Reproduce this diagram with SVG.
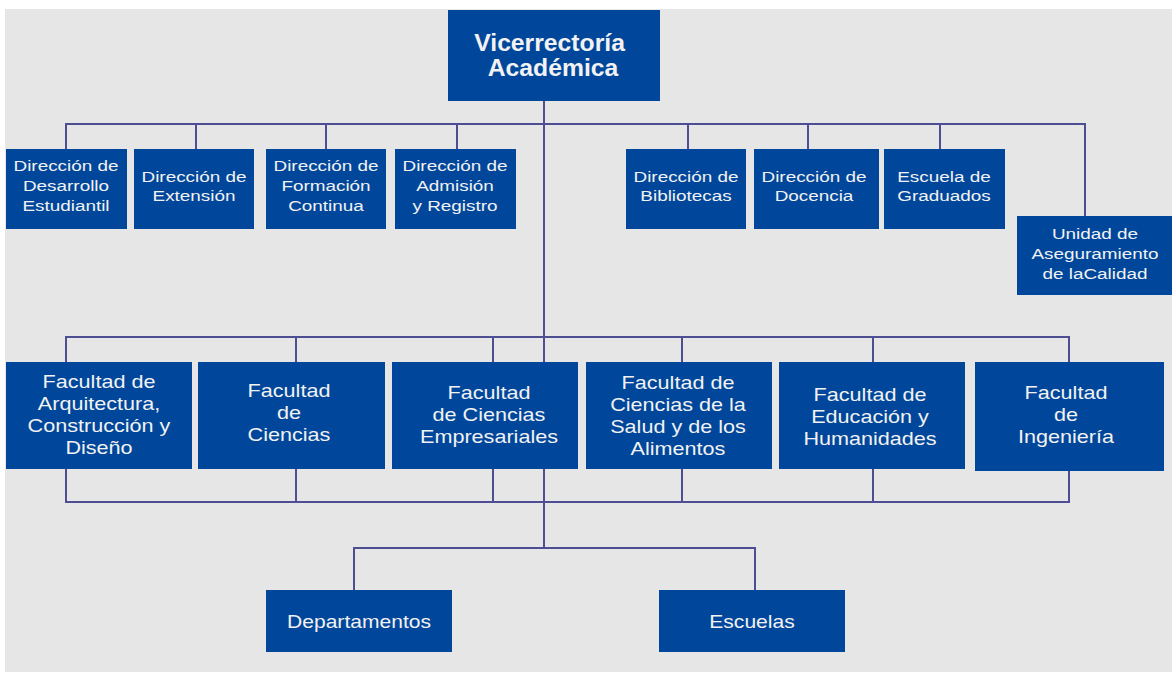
<svg xmlns="http://www.w3.org/2000/svg" width="1172" height="674" viewBox="0 0 1172 674">
  <style>
    .box { fill: #00479b; }
    .lbl { fill: #f2f2f2; font-family: "Liberation Sans", Arial, sans-serif; text-anchor: middle; }
    .s16 { font-size: 15.5px; }
    .s18 { font-size: 18px; }
    .top { font-size: 24px; font-weight: bold; }
    .wire { fill: none; stroke: #4e4e92; stroke-width: 2; }
  </style>
  <rect width="1172" height="674" fill="#ffffff"/>
  <rect x="5" y="9" width="1167" height="663" fill="#e6e6e6"/>

  <g id="connectors" class="wire">
    <!-- main trunk -->
    <path d="M544 101 V548"/>
    <!-- directions bus -->
    <path d="M66 149 V124 H1085 V216"/>
    <path d="M196 124 V149 M326 124 V149 M457 124 V149 M688 124 V149 M808 124 V149 M940 124 V149"/>
    <!-- faculties bus above -->
    <path d="M66 362 V337 H1069 V362"/>
    <path d="M296 337 V362 M493 337 V362 M682 337 V362 M873 337 V362"/>
    <!-- faculties bus below -->
    <path d="M66 469 V502 H1069 V469"/>
    <path d="M296 469 V502 M493 469 V502 M682 469 V502 M873 469 V502"/>
    <!-- departments / schools -->
    <path d="M354 590 V548 H755 V590"/>
  </g>

  <g id="vicerrectoria">
    <rect class="box" x="448" y="10" width="212" height="91"/>
    <text class="lbl top" transform="translate(553 0) scale(1.03 1)">
      <tspan x="0" y="51">Vicerrectoría</tspan>
      <tspan x="0" y="76">Académica</tspan>
    </text>
  </g>

  <!-- second level: labels widened with a horizontal scale -->
  <g id="dir-desarrollo">
    <rect class="box" x="6" y="149" width="121" height="80"/>
    <g class="lbl s16" transform="translate(66 0) scale(1.22 1)">
      <text x="0" y="171">Dirección de</text>
      <text x="0" y="191">Desarrollo</text>
      <text x="0" y="211">Estudiantil</text>
    </g>
  </g>
  <g id="dir-extension">
    <rect class="box" x="134" y="149" width="120" height="80"/>
    <g class="lbl s16" transform="translate(194 0) scale(1.22 1)">
      <text x="0" y="182">Dirección de</text>
      <text x="0" y="201">Extensión</text>
    </g>
  </g>
  <g id="dir-formacion">
    <rect class="box" x="266" y="149" width="120" height="80"/>
    <g class="lbl s16" transform="translate(326 0) scale(1.22 1)">
      <text x="0" y="171">Dirección de</text>
      <text x="0" y="191">Formación</text>
      <text x="0" y="211">Continua</text>
    </g>
  </g>
  <g id="dir-admision">
    <rect class="box" x="395" y="149" width="121" height="80"/>
    <g class="lbl s16" transform="translate(455 0) scale(1.22 1)">
      <text x="0" y="171">Dirección de</text>
      <text x="0" y="191">Admisión</text>
      <text x="0" y="211">y Registro</text>
    </g>
  </g>
  <g id="dir-bibliotecas">
    <rect class="box" x="626" y="149" width="120" height="80"/>
    <g class="lbl s16" transform="translate(686 0) scale(1.22 1)">
      <text x="0" y="182">Dirección de</text>
      <text x="0" y="201">Bibliotecas</text>
    </g>
  </g>
  <g id="dir-docencia">
    <rect class="box" x="754" y="149" width="125" height="80"/>
    <g class="lbl s16" transform="translate(814 0) scale(1.22 1)">
      <text x="0" y="182">Dirección de</text>
      <text x="0" y="201">Docencia</text>
    </g>
  </g>
  <g id="esc-graduados">
    <rect class="box" x="884" y="149" width="121" height="80"/>
    <g class="lbl s16" transform="translate(944 0) scale(1.22 1)">
      <text x="0" y="182">Escuela de</text>
      <text x="0" y="201">Graduados</text>
    </g>
  </g>
  <g id="unidad-calidad">
    <rect class="box" x="1017" y="216" width="155" height="79"/>
    <g class="lbl s16" transform="translate(1095 0) scale(1.22 1)">
      <text x="0" y="239">Unidad de</text>
      <text x="0" y="259">Aseguramiento</text>
      <text x="0" y="279">de laCalidad</text>
    </g>
  </g>

  <!-- faculties -->
  <g id="fac-arquitectura">
    <rect class="box" x="6" y="362" width="186" height="107"/>
    <g class="lbl s18" transform="translate(99 0) scale(1.2 1)">
      <text x="0" y="388">Facultad de</text>
      <text x="0" y="410">Arquitectura,</text>
      <text x="0" y="432">Construcción y</text>
      <text x="0" y="454">Diseño</text>
    </g>
  </g>
  <g id="fac-ciencias">
    <rect class="box" x="198" y="362" width="187" height="107"/>
    <g class="lbl s18" transform="translate(289 0) scale(1.2 1)">
      <text x="0" y="397">Facultad</text>
      <text x="0" y="419">de</text>
      <text x="0" y="441">Ciencias</text>
    </g>
  </g>
  <g id="fac-empresariales">
    <rect class="box" x="392" y="362" width="186" height="107"/>
    <g class="lbl s18" transform="translate(489 0) scale(1.2 1)">
      <text x="0" y="399">Facultad</text>
      <text x="0" y="421">de Ciencias</text>
      <text x="0" y="443">Empresariales</text>
    </g>
  </g>
  <g id="fac-salud">
    <rect class="box" x="586" y="362" width="186" height="107"/>
    <g class="lbl s18" transform="translate(678 0) scale(1.2 1)">
      <text x="0" y="389">Facultad de</text>
      <text x="0" y="411">Ciencias de la</text>
      <text x="0" y="433">Salud y de los</text>
      <text x="0" y="455">Alimentos</text>
    </g>
  </g>
  <g id="fac-educacion">
    <rect class="box" x="779" y="362" width="186" height="107"/>
    <g class="lbl s18" transform="translate(870 0) scale(1.2 1)">
      <text x="0" y="401">Facultad de</text>
      <text x="0" y="423">Educación y</text>
      <text x="0" y="445">Humanidades</text>
    </g>
  </g>
  <g id="fac-ingenieria">
    <rect class="box" x="975" y="362" width="189" height="109"/>
    <g class="lbl s18" transform="translate(1066 0) scale(1.2 1)">
      <text x="0" y="399">Facultad</text>
      <text x="0" y="421">de</text>
      <text x="0" y="443">Ingeniería</text>
    </g>
  </g>

  <g id="departamentos">
    <rect class="box" x="266" y="590" width="186" height="62"/>
    <g class="lbl s18" transform="translate(359 0) scale(1.17 1)">
      <text x="0" y="628">Departamentos</text>
    </g>
  </g>
  <g id="escuelas">
    <rect class="box" x="659" y="590" width="186" height="62"/>
    <g class="lbl s18" transform="translate(752 0) scale(1.17 1)">
      <text x="0" y="628">Escuelas</text>
    </g>
  </g>
</svg>
